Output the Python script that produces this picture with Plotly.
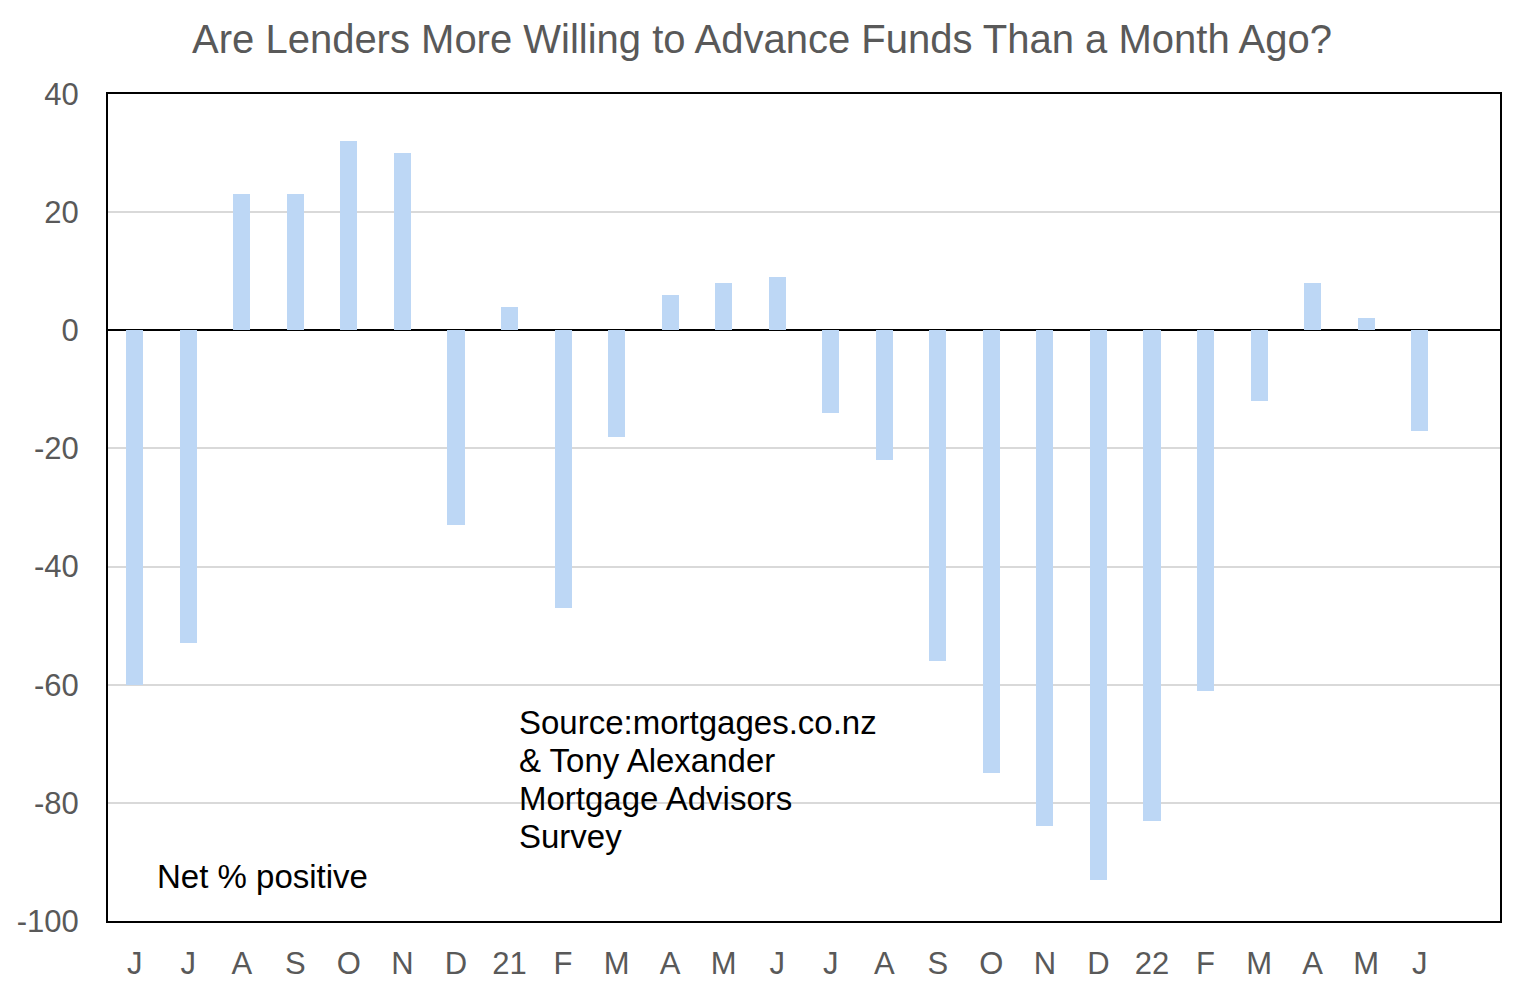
import plotly.graph_objects as go

# month labels, Jun 2020 to Jun 2022
months = ['J', 'J', 'A', 'S', 'O', 'N', 'D', '21', 'F', 'M', 'A', 'M', 'J',
          'J', 'A', 'S', 'O', 'N', 'D', '22', 'F', 'M', 'A', 'M', 'J']
# net % of advisors saying lenders are more willing
net_positive = [-60, -53, 23, 23, 32, 30, -33, 4, -47, -18, 6, 8, 9,
                -14, -22, -56, -75, -84, -93, -83, -61, -12, 8, 2, -17]
y_ticks = [40, 20, 0, -20, -40, -60, -80, -100]
source_lines = ['Source:mortgages.co.nz', '&amp; Tony Alexander',
                'Mortgage Advisors', 'Survey']

x_idx = list(range(len(months)))

# page body has an 8px margin, so shift everything back by 8px
fig = go.Figure()
fig.add_trace(go.Bar(
    x=x_idx,
    y=net_positive,
    width=0.32,
    marker=dict(color='#BDD7F5', line=dict(width=0)),
    showlegend=False,
))

fig.update_layout(
    width=1517, height=987,
    paper_bgcolor='white', plot_bgcolor='white',
    margin=dict(l=100, r=25, t=86, b=74, autoexpand=False),
    font=dict(family='Liberation Sans, Arial, sans-serif', color='#595959'),
    title=dict(text='Are Lenders More Willing to Advance Funds Than a Month Ago?',
               x=(762 - 8) / 1517, xanchor='center',
               y=1 - (39 - 8) / 987, yanchor='middle',
               font=dict(size=40, color='#595959')),
    bargap=0,
)

fig.update_xaxes(
    range=[-0.5, 25.5],
    tickmode='array', tickvals=x_idx, ticktext=months,
    tickfont=dict(size=31, color='#595959'),
    showgrid=False, zeroline=False,
    showline=True, linecolor='black', linewidth=2, mirror=True,
    ticks='', ticklabelstandoff=14, automargin=False,
)
fig.update_yaxes(
    range=[-100, 40],
    tickmode='array', tickvals=y_ticks, ticktext=[str(v) for v in y_ticks],
    tickfont=dict(size=31, color='#595959'),
    showgrid=True, gridcolor='#D9D9D9', gridwidth=1.5,
    zeroline=True, zerolinecolor='black', zerolinewidth=1.5,
    showline=True, linecolor='black', linewidth=2, mirror=True,
    ticks='', ticklabelstandoff=21, automargin=False,
)

for i, line in enumerate(source_lines):
    fig.add_annotation(
        text=line,
        xref='paper', yref='paper', x=(517 - 108) / 1392,
        y=(921 - (722 + 38.3 * i)) / 827,
        xanchor='left', yanchor='middle', align='left', showarrow=False,
        font=dict(size=33, color='black'),
    )
fig.add_annotation(
    text='Net % positive',
    xref='paper', yref='paper', x=(155 - 108) / 1392, y=(921 - 876) / 827,
    xanchor='left', yanchor='middle', align='left', showarrow=False,
    font=dict(size=33, color='black'),
)

fig.write_html('out.html')
